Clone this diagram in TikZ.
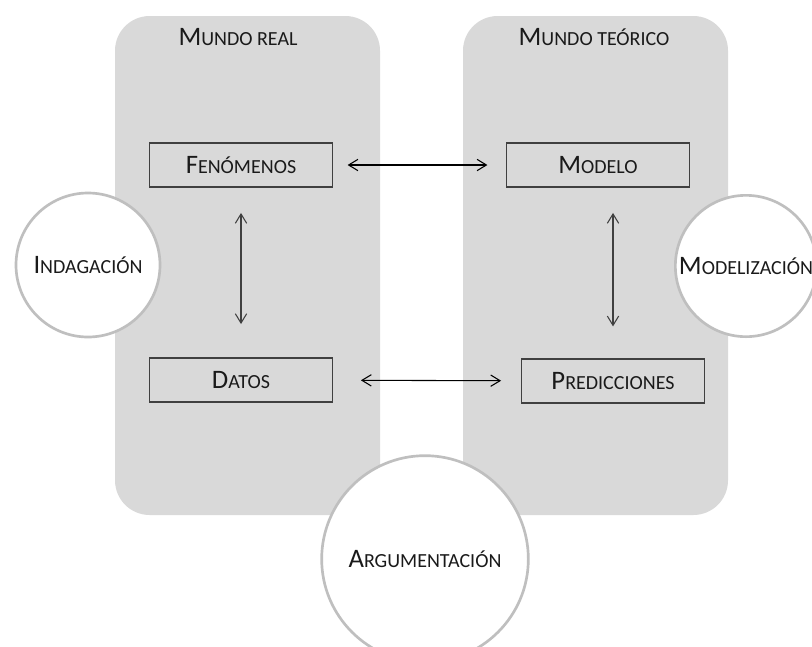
\documentclass[tikz,border=0pt]{standalone}
\usepackage{fontspec}
\setmainfont{Carlito}
\usetikzlibrary{arrows.meta}
\definecolor{panelgray}{HTML}{D9D9D9}
\definecolor{ringgray}{HTML}{BFBFBF}
\definecolor{boxline}{HTML}{404040}
\definecolor{inkgray}{HTML}{1A1A1A}
\newcommand{\smc}[2]{{\fontsize{20}{24}\selectfont #1}{\fontsize{15}{18}\selectfont #2}}

\begin{document}
\begin{tikzpicture}[x=0.75pt,y=-0.75pt,
  panel/.style={fill=panelgray,rounded corners=26pt},
  stage/.style={draw=boxline,line width=0.9pt,minimum width=137pt,minimum height=33pt,inner sep=0pt,text=inkgray},
  ring/.style={circle,draw=ringgray,line width=2pt,fill=white,inner sep=0pt,text=inkgray},
  link/.style={{Straight Barb[length=7pt,width=8.5pt]}-{Straight Barb[length=7pt,width=8.5pt]},line width=0.8pt}]
  \useasboundingbox (0,0) rectangle (812,646);

  % the two worlds
  \fill[panel] (115,16) rectangle (380,515);
  \fill[panel] (463,16) rectangle (728,515);
  \node[text=inkgray] (treal) at (238,37) {\smc{M}{UNDO REAL}};
  \node[text=inkgray] (tteo) at (594,37) {\smc{M}{UNDO TEÓRICO}};

  % practices
  \node[ring,minimum size=108pt] (ind) at (88,265) {\smc{I}{NDAGACIÓN}};
  \node[ring,minimum size=106pt] (mdz) at (746,266) {\smc{M}{ODELIZACIÓN}};
  \node[ring,minimum size=155pt] (arg) at (425,559) {\smc{A}{RGUMENTACIÓN}};

  % stages
  \node[stage] (fen) at (241,165) {\smc{F}{ENÓMENOS}};
  \node[stage] (mod) at (598,165) {\smc{M}{ODELO}};
  \node[stage] (dat) at (241,380) {\smc{D}{ATOS}};
  \node[stage] (pre) at (613,381) {\smc{P}{REDICCIONES}};

  \draw[link,shorten <=11pt,shorten >=14pt] (fen) -- (mod);
  \draw[link,shorten <=21pt,shorten >=15pt] (dat) -- (pre);
  \draw[link,boxline,shorten <=19pt,shorten >=25pt] (fen) -- (dat);
  \draw[link,boxline,shorten <=19pt,shorten >=24pt] (mod.south -| pre) -- (pre);
\end{tikzpicture}
\end{document}
